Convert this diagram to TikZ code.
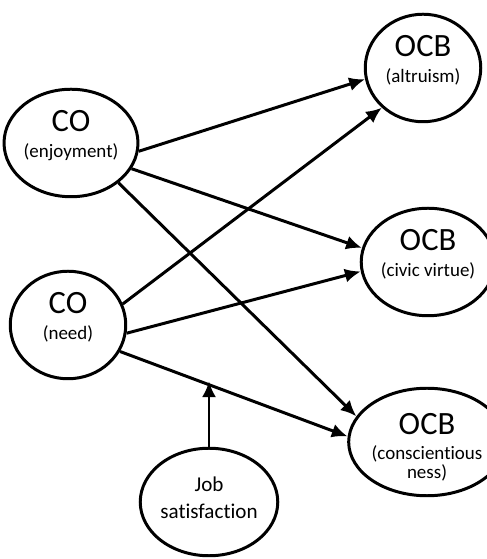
\documentclass[tikz,border=0pt]{standalone}
\usepackage{fontspec}
\setmainfont[Ligatures=NoCommon]{Carlito}
\usetikzlibrary{shapes.geometric, arrows.meta}

\newcommand{\bigname}[1]{{\fontsize{18.5}{20}\selectfont #1}}
\newcommand{\subname}[1]{{\fontsize{10.8}{13}\selectfont #1}}

\begin{document}
\begin{tikzpicture}[line width=1.7pt, >={Latex[length=9pt, width=8pt]},
  construct/.style={ellipse, draw, minimum width=2.31cm, minimum height=2.15cm,
    inner sep=0pt, align=center}]
  \useasboundingbox (0,0) rectangle (9.72,11.18);
  \node[construct] (enj)   at (1.42,8.32) {\bigname{CO}\\[3pt]\subname{(enjoyment)}\\[-2pt]};
  \node[construct] (need)  at (1.36,4.68) {\bigname{CO}\\[3pt]\subname{(need)}\\[-2pt]};
  \node[construct] (alt)   at (8.46,9.82) {\bigname{OCB}\\[3pt]\subname{(altruism)}\\[-2pt]};
  \node[construct] (civic) at (8.56,5.94) {\bigname{OCB}\\[3pt]\subname{(civic virtue)}\\[-2pt]};
  \node[construct] (consc) at (8.54,2.34) {\bigname{OCB}\\[2pt]\subname{(conscientious}\\[-1pt]\subname{ness)}\\[-17pt]};
  \node[construct, font=\fontsize{12}{14}\selectfont] (job) at (4.18,1.14) {Job\\[1pt]satisfaction\\[-9pt]};
  \path[->]
    % CO (enjoyment) paths
    (enj.-7.5) edge (alt.191)
    (enj.-23)  edge (civic.168)
    (enj.-40)  edge (consc.160)
    % CO (need) paths
    (need.21)  edge (alt.224)
    (need.-8)  edge (civic.188)
    (need.-27) edge node[coordinate, pos=0.35] (mod) {} (consc.176)
    % moderator
    (job.north) edge (job.north |- mod);
\end{tikzpicture}
\end{document}
